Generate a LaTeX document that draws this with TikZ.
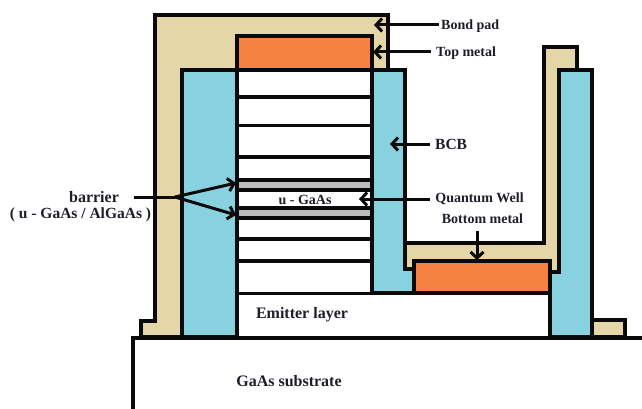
\documentclass[tikz,border=0pt]{standalone}
\usepackage{fontspec}
\setmainfont{Liberation Serif}
\usetikzlibrary{arrows.meta}
\definecolor{padc}{HTML}{E4D6A7}
\definecolor{bcbc}{HTML}{88D1DF}
\definecolor{metalc}{HTML}{F58040}
\definecolor{barc}{HTML}{BBBCBE}
\definecolor{inkc}{HTML}{0A0A0A}
\definecolor{textc}{HTML}{1E1E28}
\tikzset{
  x=1pt,y=-1pt,
  solid part/.style={draw=inkc,line width=3.1pt,line join=miter},
  pad part/.style={solid part,fill=padc},
  bcb part/.style={solid part,fill=bcbc},
  metal part/.style={solid part,fill=metalc},
  barrier part/.style={solid part,fill=barc},
  white part/.style={solid part,fill=white},
  label text/.style={font=\bfseries\fontsize{14}{16}\selectfont,text=textc,inner sep=2pt},
  big text/.style={label text,font=\bfseries\fontsize{16}{18}\selectfont},
  pointer/.style={draw=inkc,line width=3pt,-{Straight Barb[length=6pt,width=13pt,line width=3pt]}},
  pointer line/.style={draw=inkc,line width=3pt},
}
\begin{document}
\begin{tikzpicture}
\useasboundingbox (0,0) rectangle (642,409);
% bond pad
\draw[pad part] (141,337) -- (141,321) -- (155,321) -- (155,15) -- (388,15) -- (388,70) -- (182,70) -- (182,337) -- cycle;
\draw[pad part] (405,243) -- (544,243) -- (544,47) -- (577,47) -- (577,70) -- (592,70) -- (592,275) -- (405,275) -- cycle;
\draw[pad part] (592,337) -- (592,320) -- (625,320) -- (625,337) -- cycle;
% stack
\draw[white part] (237,70) rectangle (372,294);
\draw[white part,line width=2.4pt] (237,294) rectangle (550,337);
\foreach \yy in {97,125.5,157,239,261} \draw[solid part] (237,\yy) -- (372,\yy);
\draw[barrier part] (237,180) rectangle (372,190);
\draw[barrier part] (237,208) rectangle (372,218);
% BCB
\draw[bcb part] (182,70) rectangle (237,337);
\draw[bcb part] (372,70) -- (405,70) -- (405,269) -- (414,269) -- (414,293) -- (372,293) -- cycle;
\draw[bcb part] (559,70) -- (592,70) -- (592,337) -- (550,337) -- (550,272) -- (559,272) -- cycle;
% metals
\draw[metal part] (237,36) rectangle (372,70);
\draw[metal part] (414,261) rectangle (550,293);
% substrate
\draw[solid part,fill=white] (133,409) -- (133,338) -- (642,338);
% labels
\node[label text,anchor=west] (bondlbl) at (439,26) {Bond pad};
\node[label text,anchor=west] (toplbl) at (434,53) {Top metal};
\node[label text,anchor=west,font=\bfseries\fontsize{15.5}{18}\selectfont] (bcblbl) at (433,144) {BCB};
\node[label text,anchor=center] (qwlbl) at (479.5,199) {Quantum Well};
\node[label text,anchor=center] (bottomlbl) at (482.5,219) {Bottom metal};
\node[label text,anchor=center] (ulbl) at (305,200) {u - GaAs};
\node[big text,anchor=center] (emlbl) at (302,315) {Emitter layer};
\node[big text,anchor=center] (sublbl) at (289,381) {GaAs substrate};
\node[big text,anchor=center] (barlbl) at (94,197) {barrier};
\node[big text,anchor=center,font=\bfseries\fontsize{15.5}{18}\selectfont] (ballbl) at (80.5,215) {( u - GaAs / AlGaAs )};
% pointer ends
\coordinate (bondend) at (374,25);
\coordinate (topend) at (373,52);
\coordinate (bcbend) at (390,144);
\coordinate (qwend) at (359,199);
\coordinate (bottomend) at (477,260);
\coordinate (bottomstart) at (477,231);
\coordinate (barstart) at (134,197);
\coordinate (barjoin) at (175,197);
\coordinate (barone) at (236,183);
\coordinate (bartwo) at (236,215);
\draw[pointer] (bondlbl.west |- bondend) -- (bondend);
\draw[pointer] ([xshift=-3pt]toplbl.west |- topend) -- (topend);
\draw[pointer] ([xshift=-3pt]bcblbl.west) -- (bcbend);
\draw[pointer] ([xshift=-3pt]qwlbl.west) -- (qwend);
\draw[pointer] (bottomstart) -- (bottomend);
\draw[pointer line] (barstart) -- (barjoin);
\draw[pointer] (barjoin) -- (barone);
\draw[pointer] (barjoin) -- (bartwo);
\end{tikzpicture}
\end{document}
